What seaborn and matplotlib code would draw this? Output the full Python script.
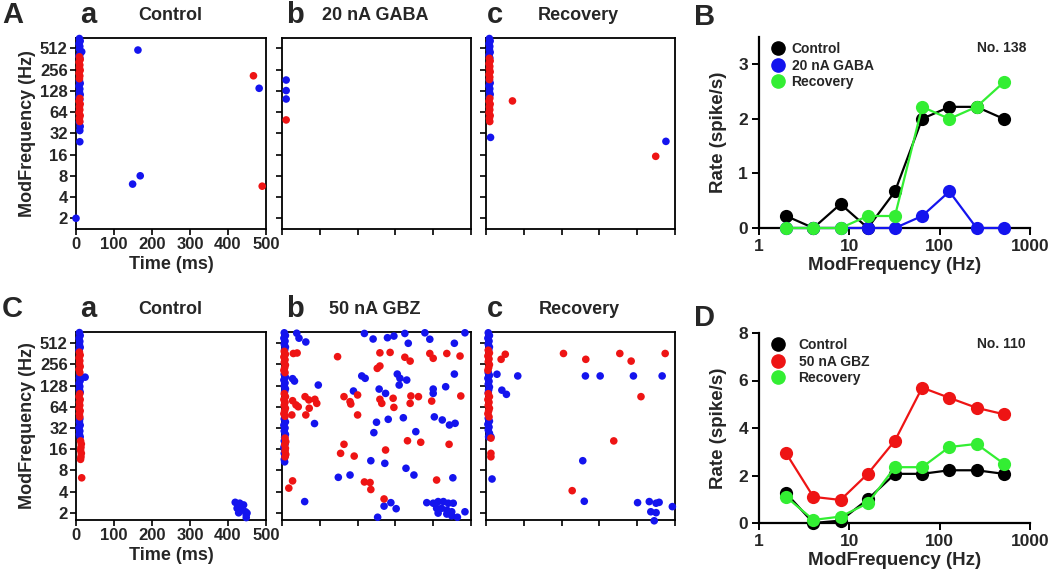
import matplotlib
matplotlib.use("Agg")
import matplotlib.pyplot as plt
import pandas as pd
import seaborn as sns
from matplotlib.lines import Line2D
from matplotlib.ticker import FixedLocator, NullLocator

# ---------------- data ----------------
# raster panels: (time ms, modulation frequency Hz)
A_ctrl_blue = [(9, 705), (11, 650), (8, 595), (10, 545), (9, 500), (15, 458), (11, 430), (8, 400), (10, 375),
               (9, 178), (11, 163), (8, 149), (10, 136), (9, 124), (11, 113), (8, 104), (10, 96),
               (9, 46), (11, 40), (10, 35), (10, 24.3),
               (163, 484), (169, 8.0), (149, 6.1), (482, 139), (0, 2)]
A_ctrl_red = [(9, 388), (11, 355), (8, 325), (10, 297), (9, 272), (11, 250), (8, 228), (10, 208), (9, 190),
              (10, 100), (8, 91), (11, 83), (9, 76), (10, 69), (8, 63), (11, 57), (9, 52), (10, 47),
              (467, 209), (490, 5.7)]
A_gaba_blue = [(11, 182), (11, 129), (11, 98)]
A_gaba_red = [(11, 49.5)]
A_rec_blue = [(9, 705), (11, 650), (8, 595), (10, 545), (9, 495), (11, 450), (8, 410), (10, 375),
              (9, 182), (11, 165), (8, 150), (10, 137), (9, 125), (11, 114), (9, 104),
              (12, 28), (476, 24.6)]
A_rec_red = [(9, 370), (11, 340), (8, 310), (10, 284), (9, 260), (11, 238), (8, 218), (10, 200), (9, 185),
             (10, 100), (8, 91), (11, 83), (9, 76), (10, 69), (8, 63), (11, 57), (9, 52), (10, 47),
             (70, 92), (449, 15.1)]

C_ctrl_blue = [(9, 720), (11, 655), (8, 595), (10, 540), (9, 490), (11, 445), (8, 405),
               (10, 180), (9, 164), (11, 150), (8, 137), (10, 124), (9, 113), (11, 103), (24, 168),
               (10, 43), (9, 39), (11, 35), (8, 32), (10, 29), (9, 26), (11, 24),
               (419, 2.83), (431, 2.75), (441, 2.6), (424, 2.33), (434, 2.2), (446, 2.08),
               (428, 2.01), (448, 1.88), (450, 1.99), (448, 1.72)]
C_ctrl_red = [(9, 380), (11, 345), (8, 315), (10, 287), (9, 261), (11, 238), (8, 216), (10, 196),
              (10, 98), (8, 89), (11, 81), (9, 74), (10, 67), (8, 61), (11, 56), (9, 51), (10, 46),
              (12, 21), (14, 19), (13, 17), (12, 15.5), (14, 14), (13, 12.5), (12, 11.5), (15, 6.3)]

C_gbz_blue = [(6, 715), (9, 655), (5, 600), (8, 545), (6, 495), (9, 450), (7, 410),
              (6, 185), (9, 168), (5, 153), (8, 139), (6, 126), (9, 115), (7, 105),
              (6, 43), (9, 39), (5, 35), (8, 32), (6, 29), (9, 26), (7, 23.5), (6, 21), (8, 19),
              (5, 17), (7, 15.5), (6, 14), (8, 12.7), (6, 11.5), (7, 10.6),
              (39, 705), (45, 600), (63, 530), (28, 160), (33, 148),
              (218, 700), (241, 584), (279, 609), (296, 643), (325, 700), (334, 508), (378, 715),
              (391, 580), (456, 508), (484, 715),
              (211, 175), (220, 162), (305, 186), (312, 162), (310, 130), (330, 153), (456, 186),
              (257, 114), (274, 99), (189, 107), (96, 130), (400, 114), (400, 99), (433, 123),
              (403, 46), (424, 41.6), (443, 35.3), (458, 37.3), (321, 44.7), (281, 42.5), (250, 38.6),
              (243, 27.5), (354, 28.4), (86, 37),
              (235, 11), (272, 10.1), (328, 8.6), (349, 6.9), (180, 6.9), (149, 6.4), (452, 6.3),
              (60, 2.9), (288, 2.8), (270, 2.5), (302, 2.3), (253, 1.74),
              (383, 2.8), (400, 2.75), (413, 2.9), (427, 2.9), (440, 2.75), (453, 2.75), (409, 2.33),
              (422, 2.33), (436, 2.2), (449, 2.08), (413, 1.99), (436, 1.93), (449, 1.82), (464, 1.74),
              (484, 2.08)]
C_gbz_red = [(6, 390), (9, 355), (5, 325), (8, 297), (6, 272), (9, 250), (7, 228), (5, 210), (8, 195),
             (6, 98), (9, 89), (5, 81), (8, 74), (6, 67), (9, 61), (7, 56), (5, 51), (8, 47),
             (8, 23), (10, 20.5), (7, 18.5), (9, 16.5), (8, 15), (10, 13.5), (8, 12.5),
             (30, 364), (40, 370),
             (147, 328), (259, 372), (286, 377), (252, 224), (259, 242), (325, 322), (339, 284),
             (391, 364), (400, 311), (436, 364), (471, 335),
             (164, 89), (180, 75.6), (182, 70), (200, 94), (200, 49), (259, 81.6), (264, 71.5),
             (294, 84.4), (296, 62.7), (341, 91), (361, 89), (339, 71.5), (396, 77), (473, 91),
             (61, 89), (71, 80), (87, 81.6), (92, 71.5), (72, 61), (63, 49), (28, 78), (37, 68),
             (43, 64), (26, 49),
             (164, 18.8), (155, 14), (191, 12.8), (274, 15.6), (332, 21.1), (367, 20.1), (442, 18.8),
             (218, 5.5), (233, 5.4), (235, 4.3), (409, 5.86), (28, 5.7), (18, 4.5), (270, 3.16)]

C_rec_blue = [(6, 715), (9, 655), (5, 600), (8, 545), (6, 495), (9, 450), (7, 410),
              (6, 195), (9, 178), (5, 162), (8, 147), (6, 134), (9, 122), (7, 111), (6, 101),
              (6, 44), (9, 40), (5, 36), (8, 33), (6, 30), (9, 27), (7, 24),
              (84, 175), (263, 175), (302, 175), (390, 175), (466, 175), (29, 185), (42, 110), (54, 96),
              (256, 11), (260, 2.93), (401, 2.8), (432, 2.9), (450, 2.75), (458, 2.83), (436, 2.08),
              (450, 2.02), (445, 1.55), (493, 2.46), (16, 6.06), (13, 24)]
C_rec_red = [(6, 405), (9, 370), (5, 335), (8, 305), (6, 278), (9, 253), (7, 230), (5, 210),
             (6, 98), (9, 89), (5, 81), (8, 74), (6, 67), (9, 61), (7, 56), (5, 51), (8, 46),
             (13, 23), (13, 14), (13, 12.5),
             (205, 364), (264, 301), (354, 364), (384, 284), (474, 364), (51, 355), (40, 301),
             (410, 89), (338, 21), (228, 4.14)]

# rate curves
mod_freq = [2, 4, 8, 16, 32, 64, 128, 256, 512]
B_control = [0.22, 0, 0.44, 0, 0.67, 2.0, 2.22, 2.22, 2.0]
B_gaba = [0, 0, 0, 0, 0, 0.22, 0.67, 0, 0]
B_recovery = [0, 0, 0, 0.22, 0.22, 2.22, 2.0, 2.22, 2.67]
D_control = [1.25, 0, 0.1, 1.0, 2.07, 2.07, 2.22, 2.22, 2.07]
D_gbz = [2.93, 1.1, 0.97, 2.07, 3.47, 5.7, 5.27, 4.85, 4.58]
D_recovery = [1.1, 0.13, 0.27, 0.83, 2.35, 2.35, 3.2, 3.33, 2.5]

raster_yticks = [2, 4, 8, 16, 32, 64, 128, 256, 512]
raster_xticks = [0, 100, 200, 300, 400, 500]

BLUE = "#1414ee"
RED = "#ee1414"
GREEN = "#33ee33"
BLACK = "#000000"

# ---------------- style ----------------
sns.set_theme(style="white")
plt.rcParams["font.family"] = ["Liberation Sans", "DejaVu Sans"]
plt.rcParams["font.weight"] = "bold"
plt.rcParams["axes.labelweight"] = "bold"

W, H = 1050, 579
fig = plt.figure(figsize=(W / 100, H / 100), dpi=100)


def add_ax(l, r, t, b):
    return fig.add_axes([l / W, 1 - b / H, (r - l) / W, (b - t) / H])


def ftext(x, y, s, size, ha="left"):
    fig.text(x / W, 1 - y / H, s, fontsize=size, fontweight="bold", ha=ha, va="center")


def raster(ax, blue, red, ylim, show_labels):
    df = pd.DataFrame(blue + red, columns=["t", "f"])
    df["c"] = ["b"] * len(blue) + ["r"] * len(red)
    sns.scatterplot(data=df, x="t", y="f", hue="c", palette={"b": BLUE, "r": RED},
                    s=30, linewidth=0, legend=False, ax=ax, clip_on=False, zorder=3)
    ax.set_yscale("log", base=2)
    ax.set_ylim(*ylim)
    ax.set_xlim(0, 500)
    ax.yaxis.set_major_locator(FixedLocator(raster_yticks))
    ax.yaxis.set_minor_locator(NullLocator())
    ax.xaxis.set_major_locator(FixedLocator(raster_xticks))
    for sp in ax.spines.values():
        sp.set_visible(True)
        sp.set_color("black")
        sp.set_linewidth(1.3)
    ax.tick_params(axis="both", direction="out", length=4, width=1.2, color="black",
                   labelsize=12, pad=2, left=True, bottom=True)
    ax.set_xlabel("")
    ax.set_ylabel("")
    if show_labels:
        ax.set_yticklabels([str(v) for v in raster_yticks])
        ax.set_xticklabels([str(v) for v in raster_xticks])
        ax.set_ylabel("ModFrequency (Hz)", fontsize=13, fontweight="bold", labelpad=3)
        ax.set_xlabel("Time (ms)", fontsize=13, fontweight="bold", labelpad=3)
    else:
        ax.set_yticklabels([])
        ax.set_xticklabels([])


cols = [(76, 266), (282, 471), (486, 675)]
top_rows = (38, 229)
bot_rows = (332, 520)
ylim_top = (1.41, 717)
ylim_bot = (1.59, 734)

panels_top = [(A_ctrl_blue, A_ctrl_red), (A_gaba_blue, A_gaba_red), (A_rec_blue, A_rec_red)]
panels_bot = [(C_ctrl_blue, C_ctrl_red), (C_gbz_blue, C_gbz_red), (C_rec_blue, C_rec_red)]
for i, (bl, rd) in enumerate(panels_top):
    ax = add_ax(cols[i][0], cols[i][1], *top_rows)
    raster(ax, bl, rd, ylim_top, i == 0)
for i, (bl, rd) in enumerate(panels_bot):
    ax = add_ax(cols[i][0], cols[i][1], *bot_rows)
    raster(ax, bl, rd, ylim_bot, i == 0)


def rate_panel(ax, series, ymax, yticks, note, textpad):
    handles = []
    for name, vals, color in series:
        sns.lineplot(x=mod_freq, y=vals, color=color, marker="o", markersize=9.5,
                     markeredgecolor=color, markeredgewidth=0, linewidth=1.6,
                     ax=ax, clip_on=False, zorder=3, legend=False)
        handles.append(Line2D([], [], linestyle="none", marker="o", markersize=9.5,
                              markerfacecolor=color, markeredgecolor=color, label=name))
    ax.set_xscale("log")
    ax.set_xlim(1, 1000)
    ax.set_ylim(0, ymax)
    ax.xaxis.set_major_locator(FixedLocator([1, 10, 100, 1000]))
    ax.xaxis.set_minor_locator(NullLocator())
    ax.set_xticklabels(["1", "10", "100", "1000"])
    ax.yaxis.set_major_locator(FixedLocator(yticks))
    ax.set_yticklabels([str(v) for v in yticks])
    for side in ["top", "right"]:
        ax.spines[side].set_visible(False)
    for side in ["left", "bottom"]:
        ax.spines[side].set_color("black")
        ax.spines[side].set_linewidth(1.6)
    ax.tick_params(axis="both", direction="out", length=5, width=1.4, color="black",
                   labelsize=12.5, pad=3, left=True, bottom=True)
    ax.set_xlabel("ModFrequency (Hz)", fontsize=13.5, fontweight="bold", labelpad=2)
    ax.set_ylabel("Rate (spike/s)", fontsize=13.5, fontweight="bold", labelpad=8)
    ax.legend(handles=handles, loc="upper left", bbox_to_anchor=(0.046, 0.975),
              frameon=False, borderaxespad=0, borderpad=0, handlelength=1.0,
              handletextpad=textpad, labelspacing=0.2, prop={"size": 10, "weight": "bold"})
    ax.text(0.985, 0.94, note, transform=ax.transAxes, ha="right", va="center",
            fontsize=10, fontweight="bold")


axB = add_ax(759, 1030, 37, 228)
rate_panel(axB, [("Control", B_control, BLACK), ("20 nA GABA", B_gaba, BLUE),
                 ("Recovery", B_recovery, GREEN)], 3.5, [0, 1, 2, 3], "No. 138", 0.45)
axD = add_ax(759, 1030, 333, 523)
rate_panel(axD, [("Control", D_control, BLACK), ("50 nA GBZ", D_gbz, RED),
                 ("Recovery", D_recovery, GREEN)], 8, [0, 2, 4, 6, 8], "No. 110", 0.95)

# panel letters and titles
ftext(2, 15, "A", 21)
ftext(80, 15, "a", 21)
ftext(170, 15, "Control", 13, ha="center")
ftext(286, 15, "b", 21)
ftext(375, 15, "20 nA GABA", 13, ha="center")
ftext(487, 15, "c", 21)
ftext(578, 15, "Recovery", 13, ha="center")
ftext(694, 17, "B", 21)

ftext(2, 309, "C", 21)
ftext(80, 309, "a", 21)
ftext(170, 309, "Control", 13, ha="center")
ftext(286, 309, "b", 21)
ftext(375, 309, "50 nA GBZ", 13, ha="center")
ftext(487, 309, "c", 21)
ftext(579, 309, "Recovery", 13, ha="center")
ftext(694, 318, "D", 21)

fig.savefig("out.png", dpi=100)
